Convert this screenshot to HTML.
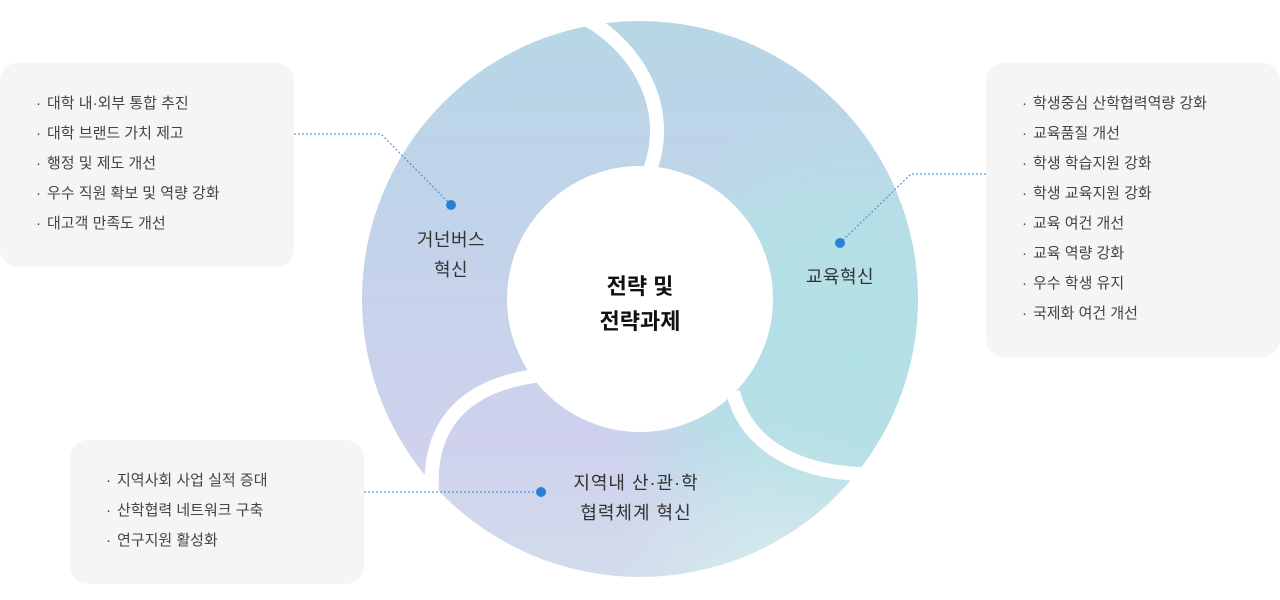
<!DOCTYPE html>
<html><head><meta charset="utf-8"><style>
body{margin:0;width:1280px;height:600px;background:#fff;position:relative;overflow:hidden;font-family:"Liberation Sans","Noto Sans CJK KR",sans-serif;}
.box{position:absolute;background:#f5f5f5;border-radius:18px;}
.box ul{list-style:none;margin:0;padding:0;position:absolute;left:36px;top:31px;}
.box li{font-size:15px;color:#444;height:30px;line-height:20px;}
.box li:before{content:"·";margin-right:6px;}
</style></head><body>
<div class="box" style="left:0;top:63px;width:294px;height:204px;"><ul>
<li>대학 내·외부 통합 추진</li><li>대학 브랜드 가치 제고</li><li>행정 및 제도 개선</li><li>우수 직원 확보 및 역량 강화</li><li>대고객 만족도 개선</li></ul></div>
<div class="box" style="left:986px;top:63px;width:294px;height:294px;"><ul>
<li>학생중심 산학협력역량 강화</li><li>교육품질 개선</li><li>학생 학습지원 강화</li><li>학생 교육지원 강화</li><li>교육 여건 개선</li><li>교육 역량 강화</li><li>우수 학생 유지</li><li>국제화 여건 개선</li></ul></div>
<div class="box" style="left:70px;top:440px;width:294px;height:144px;"><ul>
<li>지역사회 사업 실적 증대</li><li>산학협력 네트워크 구축</li><li>연구지원 활성화</li></ul></div>
<svg width="1280" height="600" style="position:absolute;left:0;top:0">
<defs>
<linearGradient id="g" x1="0" y1="0" x2="0" y2="1"><stop offset="0" stop-color="#b6d6e6"/><stop offset="0.75" stop-color="#cfd1ed"/><stop offset="1" stop-color="#d2dcec"/></linearGradient>
<radialGradient id="t" cx="850" cy="360" r="250" gradientUnits="userSpaceOnUse"><stop offset="0" stop-color="#b2e1e5" stop-opacity="1"/><stop offset="0.6" stop-color="#b2e1e5" stop-opacity="0.8"/><stop offset="1" stop-color="#b2e1e5" stop-opacity="0"/></radialGradient>
<radialGradient id="b" cx="780" cy="590" r="170" gradientUnits="userSpaceOnUse"><stop offset="0" stop-color="#d6ecee" stop-opacity="1"/><stop offset="1" stop-color="#d6ecee" stop-opacity="0"/></radialGradient>
</defs>
<circle cx="640" cy="299" r="278" fill="url(#g)"/>
<circle cx="640" cy="299" r="278" fill="url(#t)"/>
<circle cx="640" cy="299" r="278" fill="url(#b)"/>
<g fill="none" stroke="#fff" stroke-width="14">
<path d="M588 20 C640 50 672 110 650 170"/>
<path d="M733 392 C745 440 790 472 862 474"/>
<path d="M535 376 C470 385 428 420 432 490"/>
</g>
<circle cx="640" cy="299" r="133" fill="#fff"/>
<g fill="none" stroke="#3a85d6" stroke-width="1" stroke-dasharray="2 2">
<path d="M294 134 H381 L451 205"/>
<path d="M986 174 H911 L840 243"/>
<path d="M364 492 H541"/>
</g>
<g fill="#2b7fd6"><circle cx="451" cy="205" r="5"/><circle cx="840" cy="243" r="5"/><circle cx="541" cy="492" r="5"/></g>
<g font-family="Liberation Sans, Noto Sans CJK KR, sans-serif" text-anchor="middle" fill="#333" font-size="18" letter-spacing="0.5">
<text x="451" y="246">거넌버스</text><text x="451" y="276">혁신</text>
<text x="840" y="283">교육혁신</text>
<text x="636" y="489" letter-spacing="1">지역내 산·관·학</text><text x="636" y="519" letter-spacing="1">협력체계 혁신</text>
<text x="640" y="294" font-size="22" font-weight="bold" fill="#111" letter-spacing="0">전략 및</text>
<text x="640" y="329" font-size="22" font-weight="bold" fill="#111" letter-spacing="0">전략과제</text>
</g>
</svg>
</body></html>
